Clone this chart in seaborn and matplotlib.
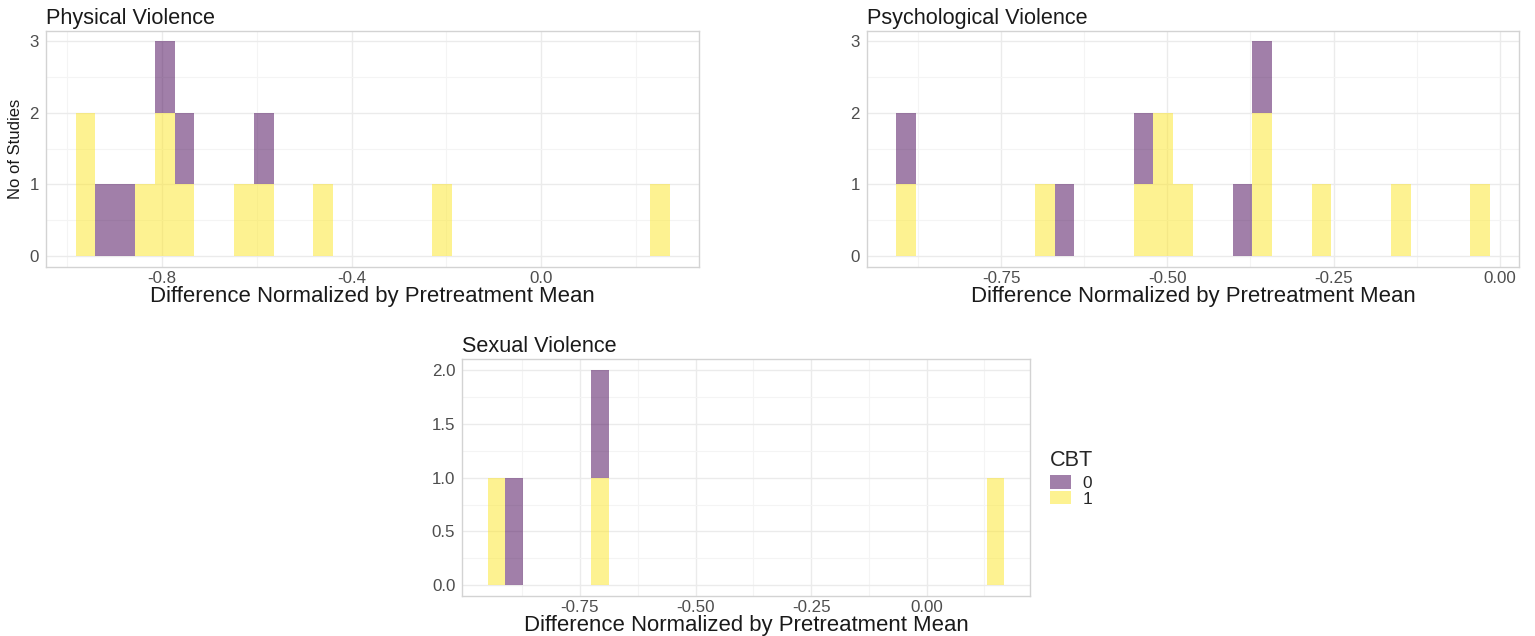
import numpy as np
import pandas as pd
import matplotlib
matplotlib.use("Agg")
import matplotlib.pyplot as plt
import seaborn as sns

# ---- data ----
phys_values = [-0.961, -0.961, -0.919, -0.877, -0.836, -0.794, -0.794, -0.794,
               -0.752, -0.752, -0.627, -0.585, -0.585, -0.460, -0.209, 0.250]
phys_cbt = [1, 1, 0, 0, 1, 1, 1, 0, 1, 0, 1, 1, 0, 1, 1, 1]

psych_values = [-0.893, -0.893, -0.685, -0.655, -0.536, -0.536, -0.506, -0.506,
                -0.476, -0.387, -0.357, -0.357, -0.357, -0.268, -0.149, -0.030]
psych_cbt = [1, 0, 1, 0, 1, 0, 1, 1, 1, 0, 1, 1, 0, 1, 1, 1]

sex_values = [-0.930, -0.893, -0.707, -0.707, 0.149]
sex_cbt = [1, 0, 1, 0, 1]

titles = ["Physical Violence", "Psychological Violence", "Sexual Violence"]
xlabel = "Difference Normalized by Pretreatment Mean"
ylabel = "No of Studies"
legend_title = "CBT"
cbt_levels = [0, 1]
palette = {0: "#440154", 1: "#FDE725"}

x_major = [[-0.8, -0.4, 0.0], [-0.75, -0.5, -0.25, 0.0], [-0.75, -0.5, -0.25, 0.0]]
x_minor = [[-1.0, -0.6, -0.2, 0.2], [-0.875, -0.625, -0.375, -0.125],
           [-0.875, -0.625, -0.375, -0.125, 0.125]]
x_labels = [["-0.8", "-0.4", "0.0"], ["-0.75", "-0.50", "-0.25", "0.00"],
            ["-0.75", "-0.50", "-0.25", "0.00"]]
y_major = [[0, 1, 2, 3], [0, 1, 2, 3], [0.0, 0.5, 1.0, 1.5, 2.0]]
y_minor = [[0.5, 1.5, 2.5], [0.5, 1.5, 2.5], [0.25, 0.75, 1.25, 1.75]]
y_labels = [["0", "1", "2", "3"], ["0", "1", "2", "3"], ["0.0", "0.5", "1.0", "1.5", "2.0"]]
y_max = [3, 3, 2]

# ---- style ----
sns.set_theme(style="white")
plt.rcParams["font.family"] = ["Liberation Sans", "DejaVu Sans"]
plt.rcParams["axes.unicode_minus"] = False

W, H = 1535, 636
fig = plt.figure(figsize=(W / 100, H / 100), dpi=100)

def rect(l, t, r, b):
    return [l / W, 1 - b / H, (r - l) / W, (b - t) / H]

ax1 = fig.add_axes(rect(46, 30.7, 699.3, 266.7))
ax2 = fig.add_axes(rect(866.7, 30.7, 1519.3, 266.7))
ax3 = fig.add_axes(rect(462.3, 359.3, 1030, 596))

datasets = [(phys_values, phys_cbt), (psych_values, psych_cbt), (sex_values, sex_cbt)]
axes = [ax1, ax2, ax3]

for i, (ax, (vals, cbt)) in enumerate(zip(axes, datasets)):
    df = pd.DataFrame({"value": vals, "CBT": cbt})
    lo, hi = min(vals), max(vals)
    w = (hi - lo) / 29
    blo, bhi = lo - w / 2, hi + w / 2
    sns.histplot(data=df, x="value", hue="CBT", hue_order=cbt_levels, palette=palette,
                 multiple="stack", bins=30, binrange=(blo, bhi), alpha=0.5,
                 linewidth=0, edgecolor="none", ax=ax, legend=(i == 2), zorder=3)
    pad = 0.05 * (bhi - blo)
    ax.set_xlim(blo - pad, bhi + pad)
    ax.set_ylim(-0.05 * y_max[i], y_max[i] * 1.05)
    ax.set_xticks(x_major[i])
    ax.set_xticklabels(x_labels[i])
    ax.set_xticks(x_minor[i], minor=True)
    ax.set_yticks(y_major[i])
    ax.set_yticklabels(y_labels[i])
    ax.set_yticks(y_minor[i], minor=True)
    ax.grid(True, which="major", color="#EBEBEB", linewidth=1.0, zorder=0)
    ax.grid(True, which="minor", color="#F4F4F4", linewidth=0.8, zorder=0)
    ax.set_axisbelow(True)
    ax.tick_params(which="both", length=0, labelsize=12.2, labelcolor="#4D4D4D")
    ax.tick_params(axis="x", pad=3)
    ax.tick_params(axis="y", pad=5)
    for s in ax.spines.values():
        s.set_visible(True)
        s.set_color("#D3D3D3")
        s.set_linewidth(1.0)
    ax.set_title(titles[i], loc="left", fontsize=15.6, color="#1A1A1A", pad=5)
    ax.set_xlabel(xlabel, fontsize=15.9, color="#1A1A1A", labelpad=0)
    ax.set_ylabel("")

ax1.set_ylabel(ylabel, fontsize=12, color="#1A1A1A", labelpad=5)

sns.move_legend(ax3, loc="upper left", bbox_to_anchor=(1.035, 0.615), frameon=False,
                title=legend_title, fontsize=12.4, title_fontsize=15.6,
                handlelength=1.2, handleheight=0.85, labelspacing=0.0,
                handletextpad=0.7, borderpad=0, borderaxespad=0)
leg = ax3.get_legend()
leg._legend_box.align = "left"
leg._legend_box.sep = 2.5

fig.savefig("out.png", dpi=100)
